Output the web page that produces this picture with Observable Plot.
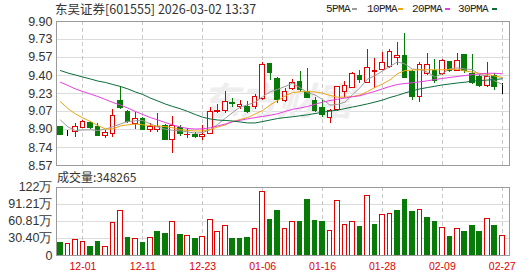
<!DOCTYPE html>
<html><head><meta charset="utf-8">
<script src="https://cdn.jsdelivr.net/npm/d3@7"></script>
<script src="https://cdn.jsdelivr.net/npm/@observablehq/plot@0.6"></script>
<style>
body{margin:0;background:#fff;}
#wrap{position:relative;width:530px;height:276px;overflow:hidden;}
#wrap svg{position:absolute;left:0;overflow:visible;}
.hdr{position:absolute;white-space:nowrap;color:#333;}
.title{left:55px;top:2px;font:12.5px/14px "Noto Sans CJK SC",sans-serif;}
.vol{left:57px;top:169px;font:12px/15px "Noto Sans CJK SC",sans-serif;}
.leg{top:3px;font:11px/13px "Liberation Mono",monospace;letter-spacing:-0.6px;color:#222;}
.sw{position:absolute;top:8px;width:5px;height:2px;}
</style></head>
<body><div id="wrap">
<div class="hdr title">东吴证券[601555] 2026-03-02 13:37</div>
<div class="hdr vol">成交量:348265</div>
</div>
<script>
// ---- data ----
const openP  = [8.923,8.868,8.877,8.918,8.958,8.930,8.847,8.859,9.170,9.062,8.955,9.001,8.896,8.900,8.939,8.807,8.914,8.848,8.856,8.831,8.862,9.060,9.069,9.148,9.108,9.108,9.108,9.186,9.503,9.371,9.170,9.272,9.339,9.247,9.164,9.103,9.011,9.078,9.253,9.288,9.395,9.330,9.432,9.454,9.478,9.565,9.577,9.432,9.201,9.411,9.447,9.411,9.524,9.447,9.586,9.417,9.392,9.300,9.401,9.284];
const highP  = [8.933,8.890,8.961,8.985,8.973,8.961,8.890,9.084,9.300,9.075,9.057,9.016,8.955,9.047,8.945,9.023,8.939,8.909,8.875,8.939,9.103,9.133,9.253,9.186,9.170,9.165,9.223,9.524,9.515,9.383,9.278,9.361,9.441,9.463,9.201,9.170,9.085,9.300,9.349,9.426,9.447,9.639,9.555,9.616,9.639,9.705,9.792,9.447,9.524,9.601,9.546,9.546,9.533,9.600,9.590,9.592,9.401,9.524,9.417,9.330];
const lowP   = [8.853,8.840,8.831,8.910,8.905,8.835,8.817,8.826,9.087,8.955,8.900,8.890,8.877,8.877,8.800,8.684,8.838,8.817,8.817,8.800,8.856,9.050,9.050,9.108,9.090,9.050,9.090,9.170,9.355,9.143,9.155,9.260,9.247,9.186,9.062,9.016,8.955,9.072,9.195,9.278,9.325,9.325,9.278,9.445,9.463,9.490,9.370,9.170,9.155,9.401,9.330,9.401,9.432,9.441,9.423,9.318,9.288,9.293,9.263,9.226];
const closeP = [8.856,8.868,8.930,8.976,8.914,8.847,8.872,9.029,9.099,8.970,9.001,8.896,8.930,8.926,8.807,8.939,8.862,8.856,8.831,8.856,9.062,9.070,9.161,9.136,9.133,9.062,9.201,9.500,9.423,9.175,9.247,9.334,9.263,9.195,9.072,9.038,9.072,9.293,9.300,9.411,9.364,9.472,9.447,9.519,9.616,9.580,9.380,9.207,9.500,9.494,9.355,9.533,9.441,9.533,9.441,9.330,9.300,9.392,9.293,9.284];
const ma5  = [8.990,8.926,8.893,8.898,8.900,8.893,8.907,8.927,8.953,8.976,8.983,8.985,8.955,8.925,8.905,8.895,8.890,8.880,8.868,8.875,8.900,8.950,9.005,9.060,9.110,9.130,9.155,9.205,9.250,9.273,9.300,9.330,9.288,9.243,9.222,9.180,9.128,9.134,9.155,9.223,9.288,9.368,9.399,9.443,9.484,9.527,9.508,9.460,9.457,9.432,9.387,9.418,9.465,9.471,9.461,9.456,9.409,9.399,9.351,9.320];
const ma10 = [9.159,9.096,9.046,9.009,8.976,8.939,8.907,8.909,8.935,8.946,8.953,8.946,8.939,8.935,8.930,8.918,8.902,8.893,8.889,8.889,8.902,8.926,8.944,8.976,8.995,9.013,9.046,9.078,9.129,9.170,9.212,9.244,9.251,9.253,9.249,9.238,9.217,9.201,9.200,9.207,9.221,9.253,9.290,9.323,9.360,9.417,9.447,9.452,9.454,9.454,9.454,9.454,9.457,9.459,9.443,9.434,9.420,9.412,9.397,9.383];
const ma20 = [9.339,9.309,9.277,9.253,9.230,9.207,9.180,9.152,9.129,9.101,9.069,9.041,9.013,8.990,8.967,8.944,8.926,8.912,8.907,8.909,8.918,8.935,8.953,8.974,8.987,9.001,9.013,9.023,9.034,9.048,9.069,9.089,9.101,9.115,9.135,9.155,9.170,9.182,9.193,9.205,9.214,9.235,9.255,9.278,9.300,9.318,9.327,9.334,9.343,9.352,9.364,9.374,9.383,9.392,9.401,9.410,9.415,9.422,9.422,9.417];
const ma30 = [9.447,9.424,9.406,9.387,9.369,9.350,9.337,9.318,9.300,9.277,9.249,9.226,9.193,9.166,9.138,9.115,9.094,9.069,9.041,9.016,9.000,8.990,8.986,8.981,8.972,8.963,8.963,8.976,8.990,9.004,9.013,9.020,9.029,9.038,9.050,9.062,9.072,9.081,9.096,9.110,9.124,9.139,9.156,9.174,9.198,9.217,9.240,9.260,9.277,9.290,9.302,9.314,9.323,9.332,9.339,9.350,9.355,9.359,9.364,9.371];
const volume = [23.1,20.8,27.9,24.9,16.0,24.9,16.0,58.2,80.1,31.5,29.7,23.1,31.5,42.7,38.6,60.5,36.8,35.0,29.7,33.8,63.5,41.0,52.8,29.1,29.1,31.5,47.5,112.7,63.5,80.1,46.3,60.5,60.5,99.7,62.3,58.8,44.5,96.2,54.6,60.5,50.4,105.1,55.2,73.0,74.2,80.1,99.7,76.6,81.3,65.9,58.8,49.3,33.8,46.3,42.7,53.4,42.7,65.3,53.4,34.83];
const volUp = "GRRRGGRRRGRGRGGRGRGRRRRGGGRRGGRRGGGGRRRRGRGRRGGGRGGRGRGGGRGR";
const dateIdx = [3,11,19,27,35,43,51,59];
const dateLabels = ["12-01","12-11","12-23","01-06","01-16","01-28","02-09","02-27"];
const priceTicks = [8.57,8.736,8.903,9.069,9.235,9.401,9.568,9.734,9.90];
const priceTickLabels = ["8.57","8.74","8.90","9.07","9.23","9.40","9.57","9.73","9.90"];
const volTicks = [0,30.405,60.81,91.215,121.62];
const volTickLabels = ["0","30.40万","60.81万","91.21万","122万"];
const maNames = ["5PMA","10PMA","20PMA","30PMA"];
const maColors = ["#9a9a9a","#eea514","#e83fe0","#0b6b3c"];

// ---- build ----
const RED = "#e00000", GREEN = "#087a08";
const idx = d3.range(closeP.length);
const candles = idx.map(i => ({i, o: openP[i], h: highP[i], l: lowP[i], c: closeP[i]}));
const cColor = d => d.c > d.o ? RED : d.c < d.o ? GREEN : "#000";
const xDom = [-0.53, 59.97];
const hw = 0.31;
const font = "Liberation Sans, Arial, sans-serif";
const wrap = document.getElementById("wrap");

const price = Plot.plot({
  width: 530, height: 170,
  marginLeft: 56, marginRight: 21, marginTop: 21, marginBottom: 5,
  x: {type: "linear", domain: xDom, axis: null},
  y: {domain: [8.57, 9.90], axis: null},
  style: {background: "transparent"},
  marks: [
    Plot.ruleY(priceTicks, {stroke: "#dcdcdc", shapeRendering: "crispEdges"}),
    Plot.ruleX(dateIdx, {stroke: "#c8c8c8", strokeDasharray: "4,3", shapeRendering: "crispEdges"}),
    Plot.text(["东方财富"], {x: 29, y: 9.15, text: d => d, fill: "#eeeeee", fontSize: 38, fontWeight: "bold", fontStyle: "italic", fontFamily: "Noto Sans CJK SC", textAnchor: "middle"}),
    Plot.ruleX(candles, {x: "i", y1: "l", y2: "h", stroke: cColor, shapeRendering: "crispEdges"}),
    Plot.rect(candles, {x1: d => d.i - hw, x2: d => d.i + hw, y1: "o", y2: "c",
      fill: d => d.c > d.o ? "#fff" : cColor(d), stroke: cColor, shapeRendering: "crispEdges"}),
    Plot.line(idx, {x: d => d, y: d => ma5[d], stroke: maColors[0], strokeWidth: 1}),
    Plot.line(idx, {x: d => d, y: d => ma10[d], stroke: maColors[1], strokeWidth: 1}),
    Plot.line(idx, {x: d => d, y: d => ma20[d], stroke: maColors[2], strokeWidth: 1}),
    Plot.line(idx, {x: d => d, y: d => ma30[d], stroke: maColors[3], strokeWidth: 1}),
    Plot.frame({stroke: "#9a9a9a", shapeRendering: "crispEdges"}),
    Plot.text(priceTicks, {x: xDom[0], y: d => d, text: (d, i) => priceTickLabels[i], textAnchor: "end", dx: -4,
      fontSize: 12.5, fontFamily: font, fill: "#333", lineAnchor: "middle"})
  ]
});
price.style.top = "0px";
wrap.appendChild(price);

const vol = Plot.plot({
  width: 530, height: 106,
  marginLeft: 56, marginRight: 21, marginTop: 16.7, marginBottom: 21,
  x: {type: "linear", domain: xDom, axis: null},
  y: {domain: [0, 121.62], axis: null},
  style: {background: "transparent"},
  marks: [
    Plot.ruleY(volTicks, {stroke: "#dcdcdc", shapeRendering: "crispEdges"}),
    Plot.ruleX(dateIdx, {stroke: "#c8c8c8", strokeDasharray: "4,3", shapeRendering: "crispEdges"}),
    Plot.rect(idx, {x1: d => d - hw, x2: d => d + hw, y1: 0, y2: d => volume[d],
      fill: d => volUp[d] === "R" ? "#fff" : GREEN, stroke: d => volUp[d] === "R" ? RED : GREEN, shapeRendering: "crispEdges"}),
    Plot.frame({stroke: "#9a9a9a", shapeRendering: "crispEdges"}),
    Plot.text(volTicks, {x: xDom[0], y: d => d, text: (d, i) => volTickLabels[i], textAnchor: "end", dx: -4,
      fontSize: 12.5, fontFamily: font, fill: "#333", lineAnchor: "middle"}),
    Plot.text(dateIdx, {x: d => d, y: 0, text: (d, i) => dateLabels[i], dy: 11, lineAnchor: "middle",
      fontSize: 10.5, fontFamily: font, fill: "#e00000"})
  ]
});
vol.style.top = "170px";
wrap.appendChild(vol);

// legend
const legX = [326, 367, 412, 458];
const swX = [352, 398, 445, 492];
maNames.forEach((n, k) => {
  const t = document.createElement("div");
  t.className = "hdr leg"; t.style.left = legX[k] + "px"; t.textContent = n;
  wrap.appendChild(t);
  const s = document.createElement("div");
  s.className = "sw"; s.style.left = swX[k] + "px"; s.style.background = maColors[k];
  wrap.appendChild(s);
});
</script>
</body></html>
